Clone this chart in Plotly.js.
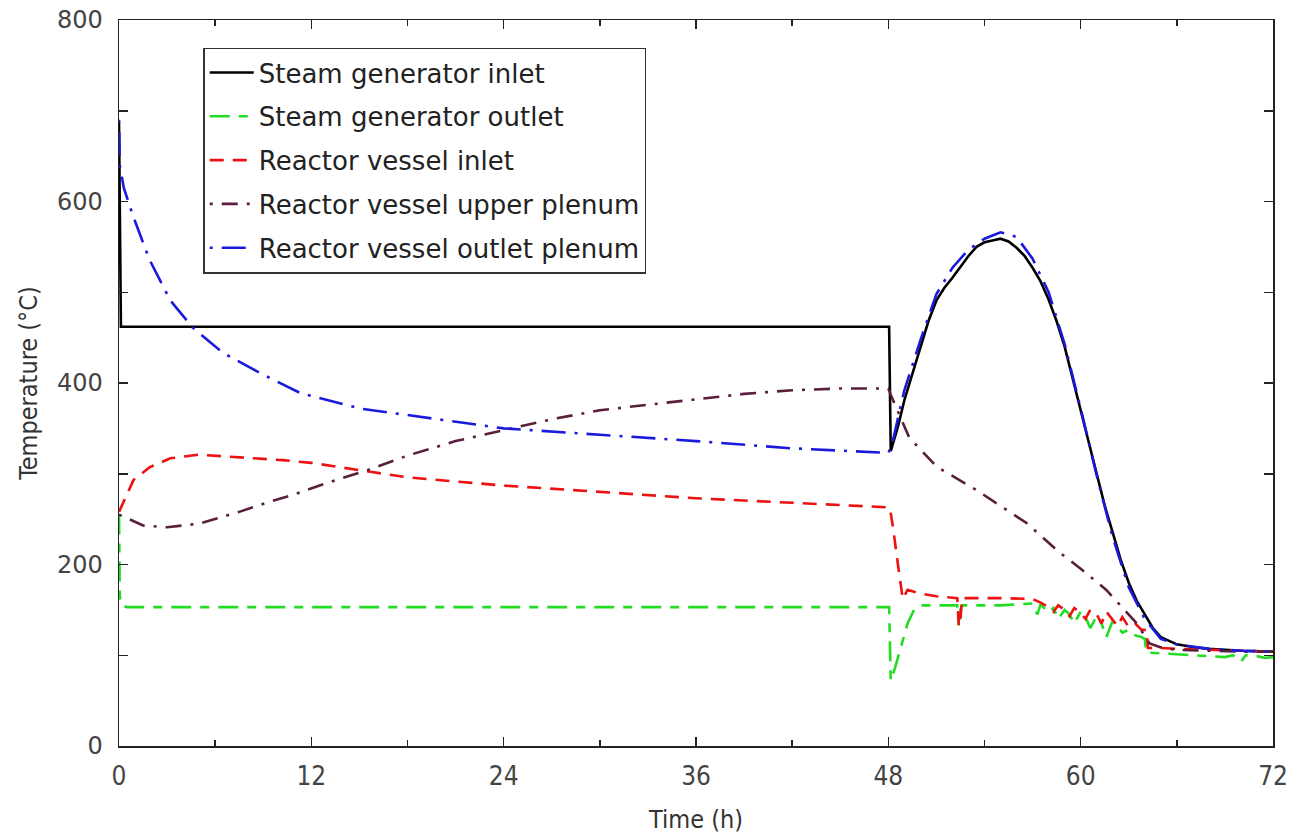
<!DOCTYPE html>
<html>
<head>
<meta charset="utf-8">
<script src="https://cdn.plot.ly/plotly-3.0.1.min.js"></script>
<style>html,body{margin:0;padding:0;background:#fff;}#chart{width:1295px;height:838px;}</style>
</head>
<body>
<div id="chart"></div>
<script>
// ---- Data ----
const seriesNames = [
  "Steam generator inlet",
  "Steam generator outlet",
  "Reactor vessel inlet",
  "Reactor vessel upper plenum",
  "Reactor vessel outlet plenum"
];

// Steam generator inlet (black)
const sgInletT = [0, 0.05, 0.12, 20, 48.05, 48.15, 48.6, 49, 49.5, 50, 50.5, 51, 51.5, 52, 52.5, 53, 53.5, 54, 54.5, 55, 55.5, 56, 56.5, 57, 57.5, 58, 58.5, 59, 59.5, 60, 60.5, 61, 61.5, 62, 62.5, 63, 63.5, 64, 64.5, 65, 66, 67, 68, 70, 72];
const sgInletV = [688, 600, 462, 462, 462, 325, 352, 381, 410, 440, 468, 491, 505, 516, 528, 540, 550, 555, 557, 559, 556, 549, 540, 527, 512, 492, 468, 440, 405, 370, 335, 298, 265, 235, 205, 180, 160, 145, 130, 120, 112, 109, 107, 105, 104];

// Steam generator outlet (green)
const sgOutletT = [0, 0.05, 0.15, 0.5, 24, 48.05, 48.15, 48.4, 48.8, 49.2, 49.6, 50, 52.3, 52.4, 52.5, 52.6, 55, 57, 57.3, 57.5, 58, 58.3, 58.6, 59, 59.3, 59.6, 60, 60.3, 60.6, 61, 61.3, 61.6, 62, 62.3, 62.6, 63, 63.4, 63.8, 64.0, 64.1, 65, 66, 67, 68, 69, 69.5, 70, 70.3, 71, 71.5, 72];
const sgOutletV = [255, 165, 155, 153, 153, 153, 72, 85, 110, 135, 150, 155, 155, 131, 150, 155, 155, 157, 145, 156, 147, 152, 140, 150, 145, 135, 148, 142, 130, 143, 135, 120, 138, 132, 125, 128, 122, 120, 118, 103, 102, 101, 100, 99, 98, 100, 93, 100, 99, 97, 98];

// Reactor vessel inlet (red)
const rvInletT = [0, 0.9, 1.9, 3.2, 5, 7.5, 10.2, 12, 18, 24, 30, 36, 42, 48, 48.1, 48.3, 48.6, 48.9, 49.2, 50, 51, 52.3, 52.4, 52.5, 52.6, 53, 55, 57, 57.5, 58, 58.3, 58.6, 59, 59.3, 59.6, 60, 60.3, 60.6, 61, 61.3, 61.6, 62, 62.3, 62.6, 63, 63.4, 63.8, 64.1, 64.2, 65, 66, 68, 70, 72];
const rvInletV = [258, 293, 307, 317, 321, 318, 315, 312, 296, 287, 280, 273, 268, 263, 262, 240, 200, 162, 172, 168, 165, 163, 132, 140, 163, 163, 163, 162, 158, 153, 148, 155, 150, 143, 152, 147, 140, 150, 145, 135, 148, 139, 132, 142, 131, 135, 128, 128, 108, 108, 107, 106, 105, 104];

// Reactor vessel upper plenum (purple)
const rvUpperT = [0, 1.5, 3, 5, 7.5, 9.2, 10.9, 13, 15.5, 18, 21, 24.5, 27, 30, 33, 36, 39, 42, 45, 48, 48.2, 49.3, 51, 53.5, 56.6, 58.7, 60.1, 61.6, 62.6, 63.5, 64.3, 65.1, 66, 68, 70, 72];
const rvUpperV = [255, 243, 241, 245, 258, 268, 277, 290, 304, 320, 336, 350, 360, 370, 376, 382, 388, 392, 394, 394, 385, 340, 308, 282, 246, 213, 194, 172, 153, 135, 113, 108, 106, 105, 104, 104];

// Reactor vessel outlet plenum (blue)
const rvOutletT = [0, 0.05, 0.3, 0.9, 1.9, 3.2, 4.6, 6.5, 8.8, 11.3, 15, 19.4, 24, 30, 36, 42, 48, 48.2, 49, 50, 51, 52, 53, 54, 55, 56, 57, 58, 59, 60, 61, 62, 63, 64, 65, 66, 68, 70, 72];
const rvOutletV = [690, 640, 615, 583, 536, 491, 461, 433, 411, 389, 372, 361, 350, 343, 336, 328, 323, 330, 392, 447, 498, 527, 547, 559, 566, 561, 537, 500, 443, 372, 298, 230, 175, 140, 118, 112, 107, 105, 104];

const xTickVals = [0, 12, 24, 36, 48, 60, 72];
const yTickVals = [0, 200, 400, 600, 800];

// ---- Traces ----
function tr(x, y, name, color, dash, group) {
  return {
    x: x, y: y, name: name, type: 'scatter', mode: 'lines',
    line: {color: color, width: 2.6, dash: dash},
    legendgroup: group
  };
}
const data = [
  tr(sgInletT, sgInletV, seriesNames[0], '#000000', 'solid', 'g1'),
  tr(sgOutletT, sgOutletV, seriesNames[1], '#22dd22', '20px,9px,9px,9px', 'g2'),
  tr(rvInletT, rvInletV, seriesNames[2], '#ee1111', '14px,9px', 'g3'),
  tr(rvUpperT, rvUpperV, seriesNames[3], '#5a1f3c', '3px,9px,16px,9px', 'g4'),
  tr(rvOutletT, rvOutletV, seriesNames[4], '#1a1add', '3px,9px,24px,9px', 'g5')
];

const yTickFont = {family: 'DejaVu Sans, sans-serif', size: 24, color: '#444'};
const xTickFont = {family: 'DejaVu Sans Condensed, DejaVu Sans, sans-serif', size: 26, color: '#444'};
const titleFont = {family: 'DejaVu Sans Condensed, DejaVu Sans, sans-serif', size: 25, color: '#333'};

const layout = {
  width: 1295, height: 838,
  paper_bgcolor: '#ffffff', plot_bgcolor: '#ffffff',
  margin: {l: 119, r: 22, t: 20, b: 92},
  showlegend: true,
  legend: {
    x: 0.073, y: 0.962, xanchor: 'left', yanchor: 'top',
    bordercolor: '#333', borderwidth: 1.5, bgcolor: '#ffffff',
    font: {family: 'DejaVu Sans, sans-serif', size: 26, color: '#222'},
    traceorder: 'grouped', tracegroupgap: 7, itemwidth: 44
  },
  xaxis: {
    range: [0, 72], tickvals: xTickVals, ticktext: xTickVals.map(String),
    ticks: 'inside', ticklen: 9, tickwidth: 1.5, tickcolor: '#222',
    showline: true, linecolor: '#222', linewidth: 1.5, mirror: 'ticks',
    showgrid: false, zeroline: false,
    minor: {tickvals: [6, 18, 30, 42, 54, 66], ticks: 'inside', ticklen: 6, tickwidth: 1.5, tickcolor: '#222', showgrid: false},
    tickfont: xTickFont, ticklabelstandoff: 6,
    title: {text: 'Time (h)', font: titleFont, standoff: 21}
  },
  yaxis: {
    range: [0, 800], tickvals: yTickVals, ticktext: yTickVals.map(String),
    ticks: 'inside', ticklen: 9, tickwidth: 1.5, tickcolor: '#222',
    showline: true, linecolor: '#222', linewidth: 1.5, mirror: 'ticks',
    showgrid: false, zeroline: false,
    minor: {tickvals: [100, 300, 500, 700], ticks: 'inside', ticklen: 9, tickwidth: 1.5, tickcolor: '#222', showgrid: false},
    tickfont: yTickFont, ticklabelstandoff: 10,
    title: {text: 'Temperature (°C)', font: titleFont, standoff: 12}
  }
};

Plotly.newPlot('chart', data, layout, {displayModeBar: false, staticPlot: true});
</script>
</body>
</html>
